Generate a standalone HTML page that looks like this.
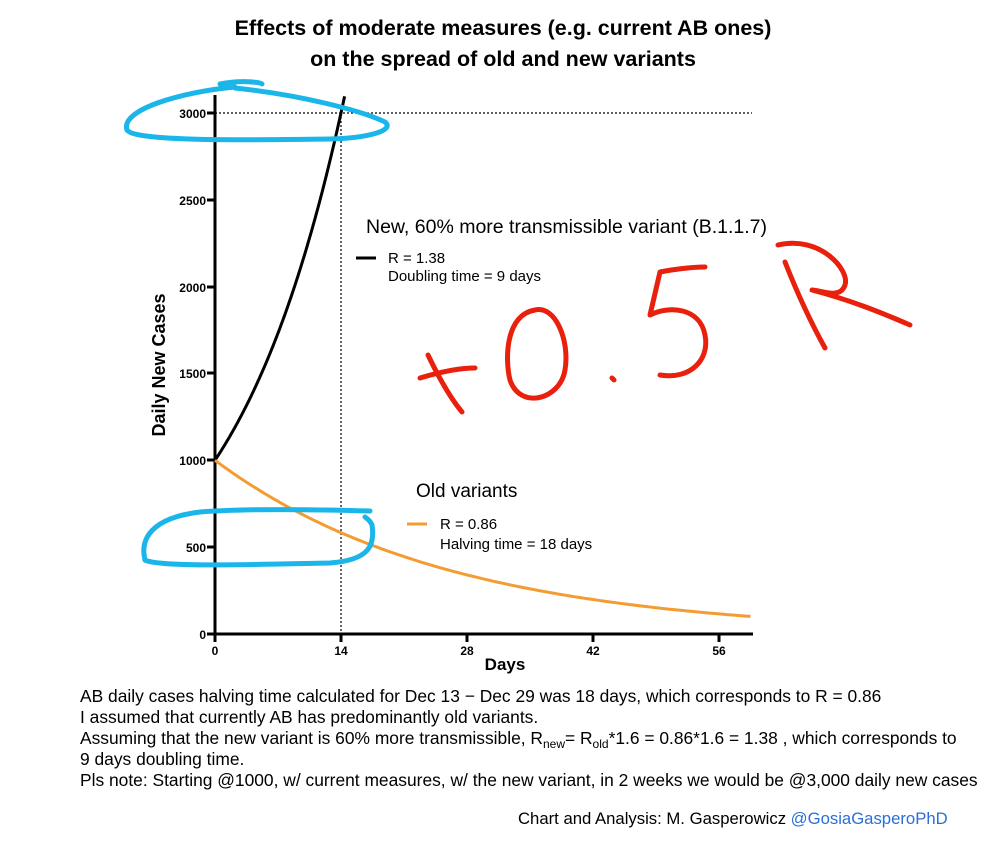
<!DOCTYPE html>
<html><head><meta charset="utf-8"><style>
body{margin:0;background:#fff;width:1000px;height:840px;overflow:hidden;font-family:"Liberation Sans",sans-serif}
</style></head><body>
<svg width="1000" height="840" xmlns="http://www.w3.org/2000/svg" font-family="Liberation Sans, sans-serif">
<text x="503" y="35" text-anchor="middle" font-size="21.5" font-weight="bold">Effects of moderate measures (e.g. current AB ones)</text>
<text x="503" y="66" text-anchor="middle" font-size="21.5" font-weight="bold">on the spread of old and new variants</text>
<g stroke="#000" stroke-width="3" fill="none">
<line x1="215" y1="95" x2="215" y2="635"/>
<line x1="214" y1="634" x2="753" y2="634"/>
<line x1="207" y1="113" x2="215" y2="113"/><line x1="207" y1="200" x2="215" y2="200"/>
<line x1="207" y1="287" x2="215" y2="287"/><line x1="207" y1="373" x2="215" y2="373"/>
<line x1="207" y1="460" x2="215" y2="460"/><line x1="207" y1="547" x2="215" y2="547"/>
<line x1="207" y1="634" x2="215" y2="634"/>
<line x1="215" y1="634" x2="215" y2="642"/><line x1="341" y1="634" x2="341" y2="642"/>
<line x1="467" y1="634" x2="467" y2="642"/><line x1="593" y1="634" x2="593" y2="642"/>
<line x1="719" y1="634" x2="719" y2="642"/>
</g>
<g stroke="#000" stroke-width="1.2" stroke-dasharray="2,2">
<line x1="215" y1="113" x2="752" y2="113"/><line x1="341" y1="113" x2="341" y2="634"/>
</g>
<g font-size="12" font-weight="bold" text-anchor="end">
<text x="206" y="118">3000</text><text x="206" y="205">2500</text><text x="206" y="292">2000</text>
<text x="206" y="378">1500</text><text x="206" y="465">1000</text><text x="206" y="552">500</text><text x="206" y="639">0</text>
</g>
<g font-size="12" font-weight="bold" text-anchor="middle">
<text x="215" y="655">0</text><text x="341" y="655">14</text><text x="467" y="655">28</text><text x="593" y="655">42</text><text x="719" y="655">56</text>
</g>
<text x="505" y="670" text-anchor="middle" font-size="17" font-weight="bold">Days</text>
<text transform="translate(165,365) rotate(-90)" text-anchor="middle" font-size="18" font-weight="bold">Daily New Cases</text>
<path id="newc" stroke="#000" stroke-width="3" fill="none"/>
<path id="oldc" stroke="#f39c32" stroke-width="3" fill="none"/>
<text x="366" y="233" font-size="19.5">New, 60% more transmissible variant (B.1.1.7)</text>
<line x1="356" y1="258" x2="376" y2="258" stroke="#000" stroke-width="3"/>
<text x="388" y="263" font-size="15">R = 1.38</text>
<text x="388" y="281" font-size="15">Doubling time = 9 days</text>
<text x="416" y="497" font-size="19">Old variants</text>
<line x1="407" y1="524" x2="427" y2="524" stroke="#f39c32" stroke-width="3"/>
<text x="440" y="529" font-size="15">R = 0.86</text>
<text x="440" y="549" font-size="15">Halving time = 18 days</text>
<g stroke="#1ab6ea" stroke-width="5" fill="none" stroke-linecap="round">
<path d="M235,87 C180,92 120,110 127,130 C135,142 250,140 330,139 C370,138 395,130 385,122 C360,110 300,95 235,88 M220,84 C240,80 260,82 262,84"/>
<path d="M370,511 C300,509 240,509 200,512 C150,518 140,540 145,560 C160,568 270,564 330,563 C370,560 375,545 372,525 C370,520 366,518 365,517"/>
</g>
<g stroke="#e8200c" stroke-width="5" fill="none" stroke-linecap="round" stroke-linejoin="round">
<path d="M420,378 C440,372 460,368 475,368 M428,355 C440,380 452,400 462,412"/>
<path d="M535,310 C505,315 505,360 510,380 C520,410 560,400 565,370 C570,340 555,305 535,310"/>
<path d="M612,378 L614,380"/>
<path d="M705,267 C690,267 670,270 660,272 L650,315 C670,305 700,308 705,335 C710,360 690,380 660,375"/>
<path d="M785,262 C800,300 815,330 825,348 M778,245 C820,235 850,270 845,285 C840,300 820,290 812,290 C850,300 880,312 910,325"/>
</g>
<g font-size="17.4">
<text x="80" y="702">AB daily cases halving time calculated for Dec 13 − Dec 29 was 18 days, which corresponds to R = 0.86</text>
<text x="80" y="723">I assumed that currently AB has predominantly old variants.</text>
<text x="80" y="744">Assuming that the new variant is 60% more transmissible, R<tspan font-size="12" dy="4">new</tspan><tspan dy="-4">= R</tspan><tspan font-size="12" dy="4">old</tspan><tspan dy="-4">*1.6 = 0.86*1.6 = 1.38 , which corresponds to</tspan></text>
<text x="80" y="765">9 days doubling time.</text>
<text x="80" y="786">Pls note: Starting @1000, w/ current measures, w/ the new variant, in 2 weeks we would be @3,000 daily new cases</text>
</g>
<text x="518" y="824" font-size="16.7">Chart and Analysis: M. Gasperowicz <tspan fill="#2b6fd6">@GosiaGasperoPhD</tspan></text>
</svg>
<script>
function X(t){return 215+9*t}function Y(v){return 634-0.1737*v}
var a=[],b=[];
for(var t=0;t<=14.45;t+=0.1){a.push((a.length?'L':'M')+X(t).toFixed(1)+','+Y(1000*Math.pow(3,t/14)).toFixed(1))}
for(var t=0;t<=59.8;t+=0.5){b.push((b.length?'L':'M')+X(t).toFixed(1)+','+Y(1000*Math.pow(2,-t/18)).toFixed(1))}
document.getElementById('newc').setAttribute('d',a.join(''));
document.getElementById('oldc').setAttribute('d',b.join(''));
</script>
</body></html>
